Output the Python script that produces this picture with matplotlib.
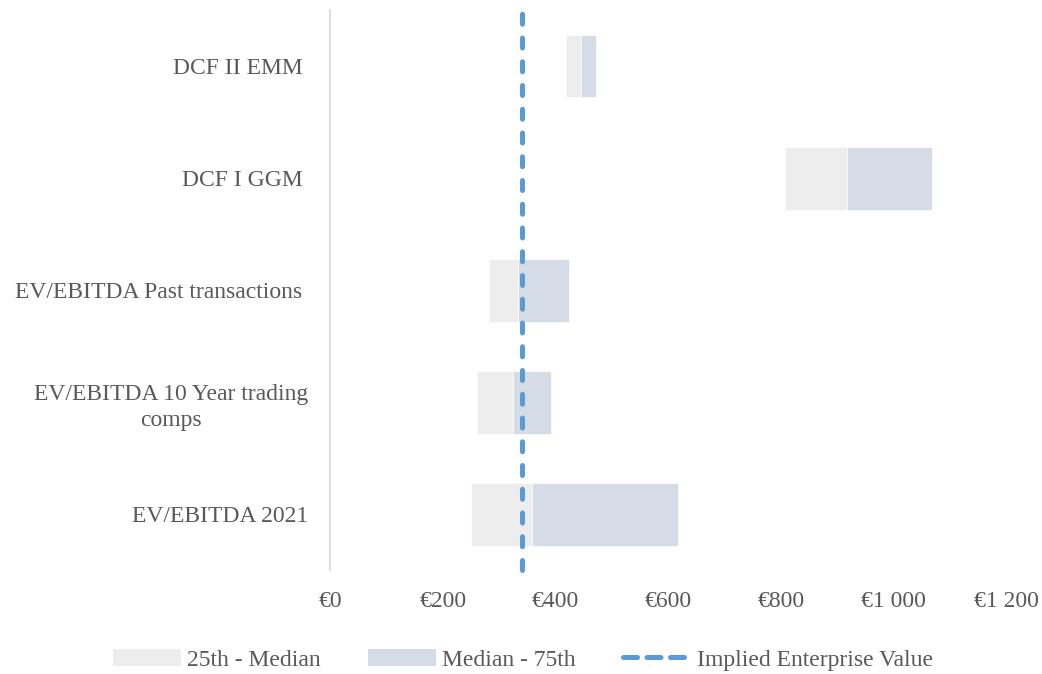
import numpy as np
import matplotlib.pyplot as plt
from matplotlib.patches import Patch
from matplotlib.lines import Line2D

plt.rcParams['font.family'] = ['Liberation Serif', 'DejaVu Serif']

# Valuation ranges (EUR m), top to bottom
methods = ['DCF II EMM ', 'DCF I GGM ', 'EV/EBITDA Past transactions ',
           'EV/EBITDA 10 Year trading\ncomps', 'EV/EBITDA 2021']
p25 = [419, 807, 282, 261, 251]
median = [445, 917, 334, 325, 359]
p75 = [472, 1069, 424, 393, 617]
implied_ev = 340

xticks = [0, 200, 400, 600, 800, 1000, 1200]
xtick_labels = ['€0', '€200', '€400', '€600', '€800', '€1 000', '€1 200']

c_low = '#ededed'
c_high = '#d6dce5'
c_line = '#5b9bd5'
c_text = '#595959'
fs = 17
dash = (0, (2.0, 2.75))

fig = plt.figure(figsize=(10.42, 6.74), dpi=100)
ax = fig.add_axes([0.3167, 0.154, 0.6488, 0.831])

y = np.arange(len(methods))
p25 = np.array(p25)
median = np.array(median)
p75 = np.array(p75)

ax.barh(y, median - p25, left=p25, height=0.56, color=c_low, edgecolor='white', linewidth=0.5)
ax.barh(y, p75 - median, left=median, height=0.56, color=c_high, edgecolor='white', linewidth=0.5)
ax.axvline(implied_ev, color=c_line, linewidth=3.6, linestyle=dash,
           dash_capstyle='round', zorder=5, clip_on=False)

ax.set_xlim(0, 1200)
ax.set_ylim(len(methods) - 0.5, -0.5)
ax.set_yticks(y)
ax.set_yticklabels(methods, fontsize=fs, color=c_text, multialignment='center',
                   linespacing=1.35)
ax.set_xticks(xticks)
ax.set_xticklabels(xtick_labels, fontsize=fs, color=c_text)

for s in ['top', 'right', 'bottom']:
    ax.spines[s].set_visible(False)
ax.spines['left'].set_color('#d9d9d9')
ax.spines['left'].set_linewidth(1.2)
ax.tick_params(axis='both', length=0)
ax.tick_params(axis='x', pad=15)
ax.tick_params(axis='y', pad=15.5)

handles = [Patch(facecolor=c_low, label='25th - Median'),
           Patch(facecolor=c_high, label='Median - 75th'),
           Line2D([0], [0], color=c_line, linewidth=3.6, linestyle=(0, (2.8, 1.9)),
                  dash_capstyle='round', label='Implied Enterprise Value')]
leg = fig.legend(handles=handles, loc='center', bbox_to_anchor=(0.502, 0.021), ncol=3,
                 frameon=False, fontsize=fs, handlelength=2.9, handleheight=0.75,
                 columnspacing=2.0, handletextpad=0.25)
for t in leg.get_texts():
    t.set_color(c_text)

fig.savefig('out.png', dpi=100)
